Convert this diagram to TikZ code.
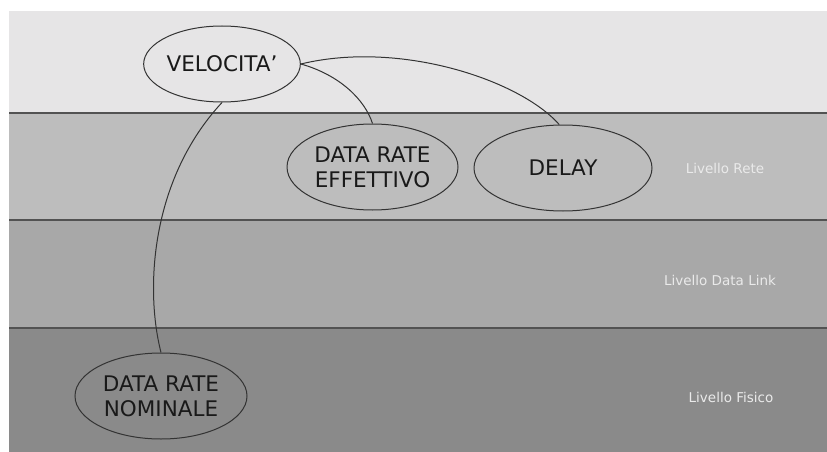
\documentclass[tikz,border=0pt]{standalone}
\usepackage{fontspec}
\setmainfont{DejaVu Sans}
\usetikzlibrary{shapes.geometric}
\definecolor{bandtop}{HTML}{E6E5E6}
\definecolor{bandrete}{HTML}{BDBDBD}
\definecolor{bandlink}{HTML}{A8A8A8}
\definecolor{bandfis}{HTML}{8A8A8A}
\definecolor{edge}{HTML}{333333}
\definecolor{labelgray}{HTML}{EAEAEA}
\tikzset{
  sep/.style={draw=edge!85, line width=1.3pt},
  bubble/.style={ellipse, draw=edge, line width=1pt, inner sep=0pt,
    align=center, font=\fontsize{21.5}{25}\selectfont, text=black!90},
  layer/.style={font=\fontsize{13.5}{15}\selectfont, text=labelgray},
  link/.style={draw=edge, line width=1pt},
}
\begin{document}
\begin{tikzpicture}[x=1pt,y=-1pt]
\useasboundingbox (0,0) rectangle (827,452);
\fill[white] (0,0) rectangle (827,452);
% layer bands
\fill[bandtop]  (9,11)  rectangle (827,113);
\fill[bandrete] (9,113) rectangle (827,220);
\fill[bandlink] (9,220) rectangle (827,328);
\fill[bandfis]  (9,328) rectangle (827,452);
\draw[sep] (9,113) -- (827,113);
\draw[sep] (9,220) -- (827,220);
\draw[sep] (9,328) -- (827,328);
% layer names
\node[layer] (rete) at (725,168) {Livello Rete};
\node[layer] (link) at (720,280) {Livello Data Link};
\node[layer] (fis)  at (731,397) {Livello Fisico};
% concepts
\node[bubble, minimum width=152pt, minimum height=76pt] (vel) at (222,64) {VELOCITA’};
\node[bubble, minimum width=171pt, minimum height=86pt] (eff) at (372.5,167) {DATA RATE\\EFFETTIVO};
\node[bubble, minimum width=178pt, minimum height=86pt] (del) at (563,168) {DELAY};
\node[bubble, minimum width=172pt, minimum height=86pt] (nom) at (161,396) {DATA RATE\\NOMINALE};
% relations
\draw[link] (vel.east) .. controls (400,40) and (520,80) .. (del.95);
\draw[link] (vel.east) .. controls (340,75) and (365,100) .. (eff.north);
\draw[link] (vel.south) .. controls (150,180) and (145,290) .. (nom.north);
\end{tikzpicture}
\end{document}
